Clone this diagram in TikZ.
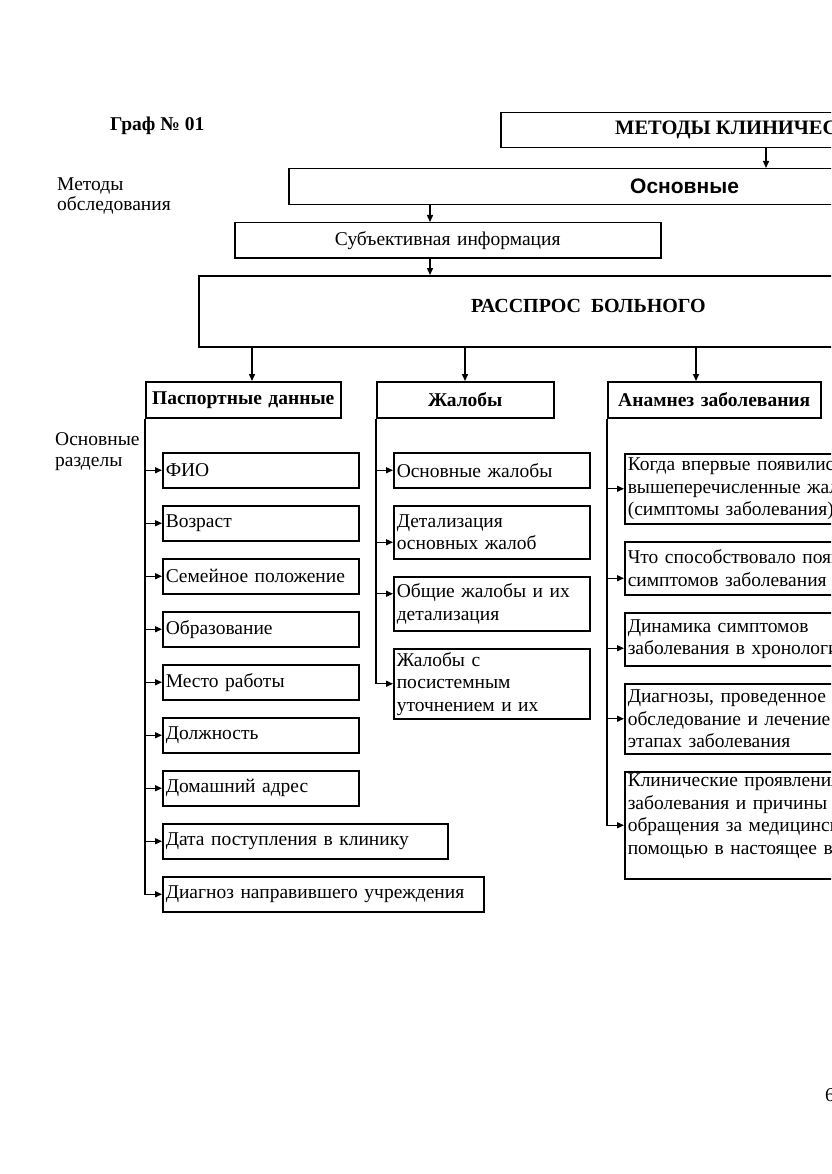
\documentclass[tikz,border=0pt]{standalone}
\usepackage{fontspec}
\setmainfont{Liberation Serif}
\newfontfamily\arialfont{Liberation Sans}
\usetikzlibrary{arrows.meta}
\newcommand\fs{\fontsize{19.5}{22.5}\selectfont}
\begin{document}
\begin{tikzpicture}[x=1pt,y=-1pt,
  bx/.style={draw, line width=1.5pt, rectangle, anchor=north west,
    inner xsep=3pt, inner ysep=0pt, align=left, font=\fs},
  hd/.style={draw, line width=1.5pt, rectangle, anchor=north west,
    inner xsep=3pt, inner ysep=0pt, align=center, font=\fs\bfseries, minimum height=36pt},
  lbl/.style={anchor=west, inner sep=0pt, font=\fs},
  arr/.style={line width=1.4pt, -{Triangle[length=7pt,width=6pt]}}]
\useasboundingbox (0,0) rectangle (831,1174);
\fill[white] (0,0) rectangle (831,1174);
\clip (0,0) rectangle (831,1174);

% left labels
\node[lbl, font=\fs\bfseries] (graf) at (110,126) {Граф № 01};
\node[lbl, align=left, font=\fontsize{19.5}{19.5}\selectfont] (mo) at (57,196) {Методы\\обследования};
\node[lbl, align=left, font=\fontsize{19.5}{21}\selectfont] (od) at (55,452) {Основные\\разделы};

% top chain
\node[bx, text width=600pt, minimum height=35pt] (mk) at (500,112) {};
\node[lbl, font=\fontsize{20.5}{22}\selectfont\bfseries] (mkt) at (615,130) {МЕТОДЫ КЛИНИЧЕСКОГО ОБСЛЕДОВАНИЯ};
\node[bx, text width=700pt, minimum height=36pt] (osn) at (288,168) {};
\node[lbl, font=\arialfont\fontsize{21}{22}\selectfont\bfseries] (osnt) at (630,186) {Основные};
\node[bx, align=center, text width=420pt, minimum height=35pt] (sub) at (234,222) {Субъективная информация};
\node[bx, text width=700pt, minimum height=71pt] (ras) at (198,275) {};
\node[lbl, font=\fontsize{20}{22}\selectfont\bfseries] (rast) at (471,306) {РАССПРОС\ \ БОЛЬНОГО};

\coordinate (c1) at (766,0);
\coordinate (c2) at (430,0);
\draw[arr] (mk.south -| c1) -- (osn.north -| c1);
\draw[arr] (osn.south -| c2) -- (sub.north -| c2);
\draw[arr] (sub.south -| c2) -- (ras.north -| c2);

% headers
\node[hd, text width=189pt] (pd) at (145,381) {Паспортные данные};
\node[hd, text width=171pt] (zh) at (376,381) {Жалобы};
\node[hd, text width=207pt] (an) at (607,381) {Анамнез заболевания};
\coordinate (h1) at (252,0);
\coordinate (h2) at (465,0);
\coordinate (h3) at (696,0);
\draw[arr] (ras.south -| h1) -- (pd.north -| h1);
\draw[arr] (ras.south -| h2) -- (zh.north -| h2);
\draw[arr] (ras.south -| h3) -- (an.north -| h3);

% left column
\node[bx, text width=190pt, minimum height=35pt] (p1) at (162,452) {ФИО};
\node[bx, text width=190pt, minimum height=35pt] (p2) at (162,505) {Возраст};
\node[bx, text width=190pt, minimum height=35pt] (p3) at (162,558) {Семейное положение};
\node[bx, text width=190pt, minimum height=35pt] (p4) at (162,611) {Образование};
\node[bx, text width=190pt, minimum height=35pt] (p5) at (162,664) {Место работы};
\node[bx, text width=190pt, minimum height=35pt] (p6) at (162,717) {Должность};
\node[bx, text width=190pt, minimum height=35pt] (p7) at (162,770) {Домашний адрес};
\node[bx, text width=279pt, minimum height=35pt] (p8) at (162,823) {Дата поступления в клинику};
\node[bx, text width=315pt, minimum height=35pt] (p9) at (162,876) {Диагноз направившего учреждения};
\foreach \n in {p1,p2,p3,p4,p5,p6,p7,p8}
  \draw[arr] (pd.south west |- \n.west) -- (\n.west);
\draw[arr] (pd.south west) |- (p9.west);

% middle column
\node[bx, text width=190pt, minimum height=35pt] (z1) at (393,452) {Основные жалобы};
\node[bx, text width=190pt, minimum height=53pt] (z2) at (393,505) {Детализация\\основных жалоб};
\node[bx, text width=190pt, minimum height=54pt] (z3) at (393,576) {Общие жалобы и их\\детализация};
\node[bx, text width=190pt, minimum height=70pt] (z4) at (393,648) {Жалобы с\\посистемным\\уточнением и их};
\draw[arr] (zh.south west |- z1.west) -- (z1.west);
\draw[arr] (zh.south west |- z2.west) ++(0,10) -- ([yshift=-10pt]z2.west);
\draw[arr] (zh.south west |- z3.west) ++(0,-10) -- ([yshift=10pt]z3.west);
\draw[arr] (zh.south west) |- (z4.west);

% right column
\node[bx, text width=400pt, minimum height=70pt] (a1) at (624,453) {Когда впервые появились\\вышеперечисленные жалобы\\(симптомы заболевания)};
\node[bx, text width=400pt, minimum height=53pt] (a2) at (624,541) {Что способствовало появлению\\симптомов заболевания};
\node[bx, text width=400pt, minimum height=53pt] (a3) at (624,612) {Динамика симптомов\\заболевания в хронологии};
\node[bx, text width=400pt, minimum height=70pt] (a4) at (624,683) {Диагнозы, проведенное\\обследование и лечение на\\этапах заболевания};
\node[bx, text width=400pt, minimum height=107pt, anchor=north west] (a5) at (624,771) {Клинические проявления\\заболевания и причины\\обращения за медицинской\\помощью в настоящее время\\\mbox{}};
\draw[arr] (an.south west |- a1.west) -- (a1.west);
\draw[arr] (an.south west |- a2.west) ++(0,10) -- ([yshift=-10pt]a2.west);
\draw[arr] (an.south west |- a3.west) ++(0,9) -- ([yshift=-9pt]a3.west);
\draw[arr] (an.south west |- a4.west) -- (a4.west);
\draw[arr] (an.south west) |- (a5.west);

\node[lbl] (pg) at (825,1095) {6};
\end{tikzpicture}
\end{document}
